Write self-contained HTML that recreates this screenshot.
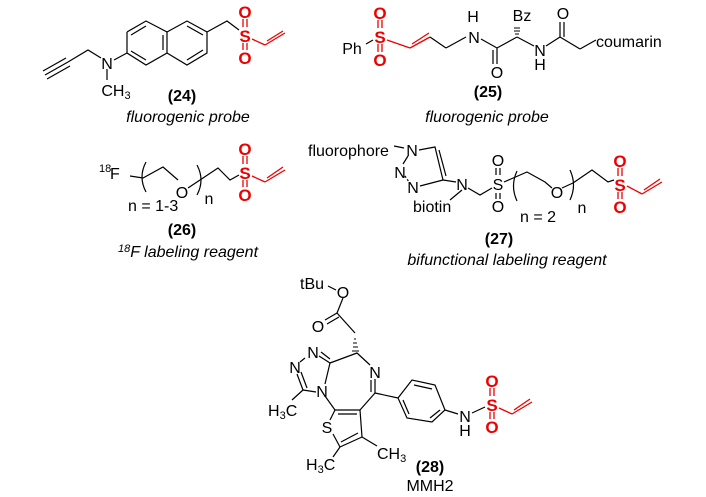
<!DOCTYPE html>
<html><head><style>
html,body{margin:0;padding:0;background:#fff;}
svg{display:block;}
text{font-family:"Liberation Sans",sans-serif;fill:#000;}
.a{font-size:16px;}
.r{fill:#e00;font-weight:bold;font-size:17px;}
.b{font-weight:bold;font-size:16px;}
.i{font-style:italic;font-size:16px;}
</style></head><body>
<svg width="706" height="497" viewBox="0 0 706 497" xmlns="http://www.w3.org/2000/svg">
<g stroke="#000" stroke-width="1.2" fill="none">
<!-- 24 -->
<polyline points="127,32 146,21 167,32 167,53 146,65 127,53 127,32"/>
<polyline points="167,32 187,21 207,32 207,53 187,65 167,53"/>
<line x1="131" y1="35" x2="146" y2="26"/><line x1="146" y1="60" x2="131" y2="51"/>
<line x1="187" y1="26" x2="203" y2="35"/><line x1="187" y1="60" x2="203" y2="50"/>
<line x1="163" y1="35" x2="163" y2="50"/>
<polyline points="207,32 227,21 239,30"/>
<line x1="127" y1="53" x2="114" y2="60"/>
<polyline points="101,58 88,50 68,62"/>
<line x1="68" y1="62" x2="45" y2="75"/><line x1="66" y1="58" x2="43" y2="71"/><line x1="70" y1="66" x2="47" y2="79"/>
<line x1="107" y1="69" x2="107" y2="80"/>
<!-- 25 -->
<line x1="366" y1="44" x2="373" y2="40"/>
<polyline points="481,39 497,48 517,37"/>
<line x1="446" y1="48" x2="466" y2="37"/>
<line x1="497" y1="48" x2="497" y2="64"/><line x1="493" y1="50" x2="493" y2="64"/>
<line x1="517" y1="37" x2="534" y2="46"/>
<line x1="546" y1="46" x2="560" y2="37"/><line x1="560" y1="37" x2="580" y2="49"/><line x1="580" y1="49" x2="596" y2="40"/>
<line x1="560" y1="37" x2="560" y2="22"/><line x1="564" y1="37" x2="564" y2="22"/>
<line x1="446" y1="48" x2="430" y2="37"/>
<!-- 26 -->
<polyline points="130,176 143,178 163,167 178,180"/>
<line x1="188" y1="188" x2="200" y2="180"/>
<polyline points="200,180 218,168 230,180 239,175"/>
<path d="M146,162 Q138,177 146,192"/><path d="M197,165 Q205,180 197,195"/>
<!-- 27 -->
<line x1="394" y1="146" x2="404" y2="148"/>
<polyline points="419,150 435,147 443,180"/>
<line x1="439" y1="150" x2="446" y2="176"/>
<line x1="443" y1="180" x2="420" y2="186"/>
<line x1="405" y1="176" x2="409" y2="182" stroke-dasharray="2,2"/>
<line x1="408" y1="156" x2="403" y2="164"/>
<line x1="443" y1="180" x2="456" y2="182"/>
<line x1="462" y1="190" x2="450" y2="200"/>
<polyline points="468,188 480,195 492,188"/>
<polyline points="504,182 527,172 545,182 552,188"/>
<line x1="562" y1="188" x2="573" y2="183"/>
<polyline points="573,183 592,170 608,182 614,180"/>
<path d="M517,171 Q510,186 517,201"/><path d="M570,170 Q577,185 570,200"/>
<line x1="496" y1="168" x2="496" y2="175"/><line x1="500" y1="168" x2="500" y2="175"/>
<line x1="496" y1="193" x2="496" y2="199"/><line x1="500" y1="193" x2="500" y2="199"/>
<!-- 28 -->
<line x1="328" y1="286" x2="336" y2="290"/>
<line x1="343" y1="298" x2="337" y2="313"/>
<line x1="337" y1="313" x2="325" y2="320"/><line x1="339" y1="317" x2="327" y2="324"/>
<line x1="337" y1="313" x2="355" y2="333"/>
<polyline points="330,363 357,353 370,365"/>
<line x1="330" y1="363" x2="319" y2="356"/><line x1="330" y1="359" x2="321" y2="352"/>
<line x1="330" y1="363" x2="325" y2="384"/>
<line x1="305" y1="358" x2="300" y2="362"/>
<line x1="297" y1="374" x2="303" y2="390"/><line x1="301" y1="372" x2="307" y2="388"/>
<line x1="303" y1="390" x2="316" y2="392"/>
<line x1="303" y1="390" x2="292" y2="400"/>
<line x1="375" y1="379" x2="375" y2="393"/><line x1="371" y1="380" x2="371" y2="392"/>
<line x1="375" y1="393" x2="360" y2="410"/>
<line x1="325" y1="396" x2="335" y2="410"/>
<line x1="335" y1="410" x2="360" y2="410"/><line x1="338" y1="414" x2="357" y2="414"/>
<line x1="335" y1="410" x2="330" y2="420"/>
<line x1="360" y1="410" x2="362" y2="437"/>
<line x1="362" y1="437" x2="340" y2="447"/><line x1="358" y1="433" x2="341" y2="442"/>
<line x1="340" y1="447" x2="333" y2="434"/>
<line x1="340" y1="447" x2="333" y2="457"/>
<line x1="362" y1="437" x2="377" y2="446"/>
<line x1="375" y1="393" x2="398" y2="398"/>
<polygon points="398,398 412,380 435,385 445,410 432,422 407,418"/>
<line x1="414" y1="385" x2="432" y2="389"/><line x1="440" y1="410" x2="430" y2="418"/><line x1="403" y1="400" x2="409" y2="414"/>
<line x1="445" y1="410" x2="458" y2="414"/>
<line x1="472" y1="413" x2="485" y2="407"/>
</g>
<g stroke="#000" stroke-width="1">
<line x1="519" y1="34" x2="515" y2="34"/><line x1="520" y1="31" x2="514" y2="31"/><line x1="520" y1="28" x2="514" y2="28"/>
<line x1="354" y1="339" x2="356" y2="339"/><line x1="353" y1="343" x2="357" y2="343"/><line x1="353" y1="347" x2="358" y2="347"/><line x1="352" y1="351" x2="359" y2="351"/>
</g>
<g stroke="#e00" stroke-width="1.3" fill="none">
<line x1="243" y1="19" x2="243" y2="27"/><line x1="247" y1="19" x2="247" y2="27"/>
<line x1="243" y1="43" x2="243" y2="50"/><line x1="247" y1="43" x2="247" y2="50"/>
<line x1="252" y1="39" x2="265" y2="45"/><line x1="265" y1="45" x2="285" y2="33"/><line x1="267" y1="41" x2="283" y2="31"/>
<line x1="378" y1="20" x2="378" y2="28"/><line x1="382" y1="20" x2="382" y2="28"/>
<line x1="378" y1="44" x2="378" y2="52"/><line x1="382" y1="44" x2="382" y2="52"/>
<line x1="387" y1="40" x2="410" y2="48"/><line x1="410" y1="48" x2="430" y2="37"/><line x1="412" y1="44" x2="429" y2="33"/>
<line x1="243" y1="156" x2="243" y2="164"/><line x1="247" y1="156" x2="247" y2="164"/>
<line x1="243" y1="180" x2="243" y2="187"/><line x1="247" y1="180" x2="247" y2="187"/>
<line x1="252" y1="176" x2="265" y2="182"/><line x1="265" y1="182" x2="285" y2="170"/><line x1="267" y1="178" x2="283" y2="167"/>
<line x1="618" y1="168" x2="618" y2="176"/><line x1="622" y1="168" x2="622" y2="176"/>
<line x1="618" y1="192" x2="618" y2="199"/><line x1="622" y1="192" x2="622" y2="199"/>
<line x1="627" y1="186" x2="642" y2="194"/><line x1="642" y1="194" x2="662" y2="182"/><line x1="644" y1="190" x2="660" y2="179"/>
<line x1="490" y1="388" x2="490" y2="396"/><line x1="494" y1="388" x2="494" y2="396"/>
<line x1="490" y1="412" x2="490" y2="419"/><line x1="494" y1="412" x2="494" y2="419"/>
<line x1="499" y1="408" x2="512" y2="414"/><line x1="512" y1="414" x2="532" y2="402"/><line x1="514" y1="410" x2="530" y2="399"/>
</g>
<g text-anchor="middle">
<text class="r" x="245" y="18">O</text><text class="r" x="245" y="42">S</text><text class="r" x="245" y="64">O</text>
<text class="r" x="380" y="19">O</text><text class="r" x="380" y="43">S</text><text class="r" x="380" y="66">O</text>
<text class="r" x="245" y="155">O</text><text class="r" x="245" y="179">S</text><text class="r" x="245" y="201">O</text>
<text class="r" x="620" y="167">O</text><text class="r" x="620" y="191">S</text><text class="r" x="620" y="213">O</text>
<text class="r" x="492" y="387">O</text><text class="r" x="492" y="411">S</text><text class="r" x="492" y="433">O</text>
</g>
<g text-anchor="middle">
<text x="107" y="69" class="a">N</text>
<text x="116" y="96" class="a">CH<tspan font-size="11" dy="3">3</tspan></text>
<text x="352" y="54" class="a">Ph</text>
<text x="473" y="22" class="a">H</text><text x="474" y="43" class="a">N</text>
<text x="522" y="21" class="a">Bz</text>
<text x="497" y="78" class="a">O</text>
<text x="540" y="56" class="a">N</text><text x="540" y="70" class="a">H</text>
<text x="563" y="19" class="a">O</text>
<text x="182" y="198" class="a">O</text>
<text x="209" y="204" class="a">n</text>
<text x="557" y="198" class="a">O</text>
<text x="582" y="213" class="a">n</text>
<text x="412" y="156" class="a">N</text>
<text x="400" y="178" class="a">N</text>
<text x="413" y="193" class="a">N</text>
<text x="462" y="190" class="a">N</text>
<text x="498" y="166" class="a">O</text><text x="498" y="190" class="a">S</text><text x="498" y="212" class="a">O</text>
<text x="343" y="298" class="a">O</text>
<text x="318" y="332" class="a">O</text>
<text x="313" y="358" class="a">N</text>
<text x="295" y="373" class="a">N</text>
<text x="322" y="397" class="a">N</text>
<text x="375" y="378" class="a">N</text>
<text x="327" y="433" class="a">S</text>
<text x="465" y="422" class="a">N</text><text x="465" y="436" class="a">H</text>
</g>
<g class="a">
<text x="110" y="179">F</text><text x="99" y="172" font-size="11">18</text>
<text x="308" y="156">fluorophore</text>
<text x="413" y="212">biotin</text>
<text x="300" y="289">tBu</text>
<text x="268" y="416">H<tspan font-size="11" dy="3">3</tspan><tspan dy="-3">C</tspan></text>
<text x="306" y="470">H<tspan font-size="11" dy="3">3</tspan><tspan dy="-3">C</tspan></text>
<text x="377" y="459">CH<tspan font-size="11" dy="3">3</tspan></text>
<text x="596" y="47">coumarin</text>
<text x="128" y="211">n = 1-3</text>
<text x="520" y="222">n = 2</text>
</g>
<g text-anchor="middle">
<text class="b" x="182" y="101">(24)</text>
<text class="i" x="188" y="122">fluorogenic probe</text>
<text class="b" x="488" y="97">(25)</text>
<text class="i" x="487" y="122">fluorogenic probe</text>
<text class="b" x="182" y="235">(26)</text>
<text class="i" x="188" y="257"><tspan font-size="11" dy="-5">18</tspan><tspan dy="5">F labeling reagent</tspan></text>
<text class="b" x="499" y="244">(27)</text>
<text class="i" x="507" y="265">bifunctional labeling reagent</text>
<text class="b" x="430" y="472">(28)</text>
<text class="a" x="430" y="491">MMH2</text>
</g>
</svg>
</body></html>
